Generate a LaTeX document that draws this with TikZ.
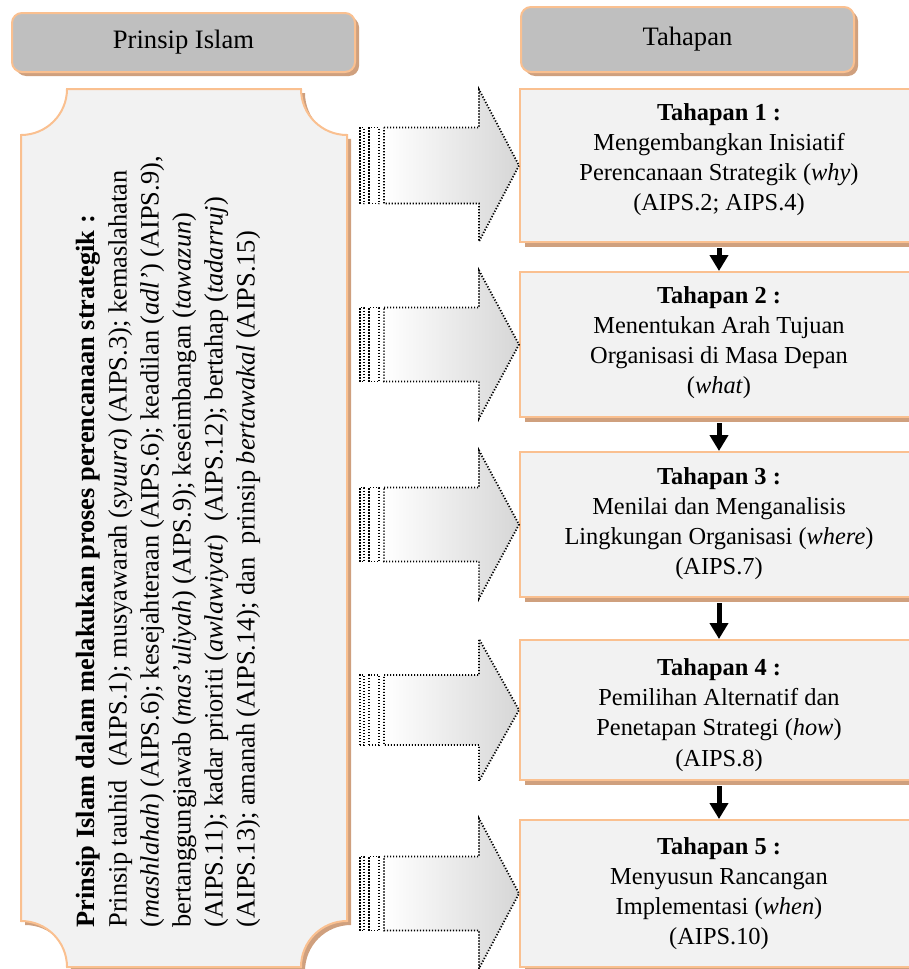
\documentclass[tikz,border=0pt]{standalone}
\usepackage{fontspec}
\setmainfont{Liberation Serif}
\usetikzlibrary{arrows.meta,shadows}
\definecolor{bord}{HTML}{FAC090}
\definecolor{shad}{HTML}{CFA07E}
\definecolor{hdrfill}{HTML}{BFBFBF}
\definecolor{boxfill}{HTML}{F2F2F2}
\begin{document}
\begin{tikzpicture}[x=0.5pt,y=0.5pt,
  hdr/.style={draw=bord, line width=1pt, fill=hdrfill, rounded corners=5pt,
    general shadow={fill=shad, shadow xshift=2pt, shadow yshift=-2pt},
    font=\fontsize{13.3}{15}\selectfont, inner sep=0pt},
  stage/.style={draw=bord, line width=1pt, fill=boxfill,
    general shadow={fill=shad, shadow xshift=2.5pt, shadow yshift=-2.5pt},
    minimum width=199pt, inner sep=0pt},
  stagetext/.style={font=\fontsize{12.2}{15.1}\selectfont, align=center, inner sep=0pt},
  down/.style={line width=2.5pt, -{Triangle[width=9pt,length=8pt]}, shorten <=2.5pt},
  dots/.style={draw, line width=0.9pt, dash pattern=on 0.6pt off 0.9pt},
  bigarrow/.style={dots, left color=white, right color=black!16},
  stripe/.style={dots, fill=white},
  paneltext/.style={rotate=90, anchor=north west, align=left, inner sep=0pt,
    font=\fontsize{13.2}{16}\selectfont}
]
\clip (0,0) rectangle (909,-969);

% headers
\node[hdr, minimum width=171.5pt, minimum height=29.5pt] (h1) at (183.5,-42.5) {Prinsip Islam};
\node[hdr, minimum width=166.5pt, minimum height=32.5pt] (h2) at (687.5,-39.5) {Tahapan};

% left panel
\begin{scope}[shift={(4,-4)}]
\fill[shad] (67,-89) -- (301,-89) arc[start angle=180,end angle=270,radius=46]
  -- (347,-921) arc[start angle=90,end angle=180,radius=46]
  -- (67,-967) arc[start angle=0,end angle=90,radius=46]
  -- (21,-135) arc[start angle=270,end angle=360,radius=46] -- cycle;
\end{scope}
\filldraw[draw=bord, line width=1pt, fill=boxfill]
  (67,-89) -- (301,-89) arc[start angle=180,end angle=270,radius=46]
  -- (347,-921) arc[start angle=90,end angle=180,radius=46]
  -- (67,-967) arc[start angle=0,end angle=90,radius=46]
  -- (21,-135) arc[start angle=270,end angle=360,radius=46] -- cycle;

\node[paneltext] (ptext) at (76,-928) {%
\textbf{Prinsip Islam dalam melakukan proses perencanaan strategik :}\\
Prinsip tauhid\ \ (AIPS.1); musyawarah (\textit{syuura}) (AIPS.3); kemaslahatan\\
(\textit{mashlahah}) (AIPS.6); kesejahteraan (AIPS.6); keadilan (\textit{adl'}) (AIPS.9),\\
bertanggungjawab (\textit{mas'uliyah}) (AIPS.9); keseimbangan (\textit{tawazun})\\
(AIPS.11); kadar prioriti (\textit{awlawiyat})\ \ (AIPS.12); bertahap (\textit{tadarruj})\\
(AIPS.13); amanah (AIPS.14); dan\ \ prinsip \textit{bertawakal} (AIPS.15)};

% stage boxes
\node[stage, minimum height=76.5pt] (s1) at (719,-165.5) {};
\node[stage, minimum height=72.5pt] (s2) at (719,-344.5) {};
\node[stage, minimum height=72.5pt] (s3) at (719,-524.5) {};
\node[stage, minimum height=70pt] (s4) at (719,-710) {};
\node[stage, minimum height=73.5pt] (s5) at (719,-893.5) {};

\node[stagetext] (t1) at ([yshift=3pt]s1.center)
  {\textbf{Tahapan 1 :}\\Mengembangkan Inisiatif\\Perencanaan Strategik (\textit{why})\\(AIPS.2; AIPS.4)};
\node[stagetext] (t2) at ([yshift=1pt]s2.center)
  {\textbf{Tahapan 2 :}\\Menentukan Arah Tujuan\\Organisasi di Masa Depan\\(\textit{what})};
\node[stagetext] (t3) at ([yshift=0.5pt]s3.center)
  {\textbf{Tahapan 3 :}\\Menilai dan Menganalisis\\Lingkungan Organisasi (\textit{where})\\(AIPS.7)};
\node[stagetext] (t4) at ([yshift=-2.5pt]s4.center)
  {\textbf{Tahapan 4 :}\\Pemilihan Alternatif dan\\Penetapan Strategi (\textit{how})\\(AIPS.8)};
\node[stagetext] (t5) at ([yshift=0pt]s5.center)
  {\textbf{Tahapan 5 :}\\Menyusun Rancangan\\Implementasi (\textit{when})\\(AIPS.10)};

% vertical arrows
\draw[down] (s1.south) -- (s2.north);
\draw[down] (s2.south) -- (s3.north);
\draw[down] (s3.south) -- (s4.north);
\draw[down] (s4.south) -- (s5.north);

% big striped arrows
\foreach \n/\hh/\bh in {s1/76/38, s2/74/37, s3/74/37, s4/71/35, s5/75/37}{
  \begin{scope}[shift={(\n.west)}]
    \path[bigarrow] (-135,\bh) -- (-40,\bh) -- (-40,\hh) -- (0,0) -- (-40,-\hh)
      -- (-40,-\bh) -- (-135,-\bh) -- cycle;
    \path[stripe] (-150,-\bh) rectangle (-140,\bh);
    \path[stripe] (-159,-\bh) rectangle (-155,\bh);
  \end{scope}
}
\end{tikzpicture}
\end{document}
